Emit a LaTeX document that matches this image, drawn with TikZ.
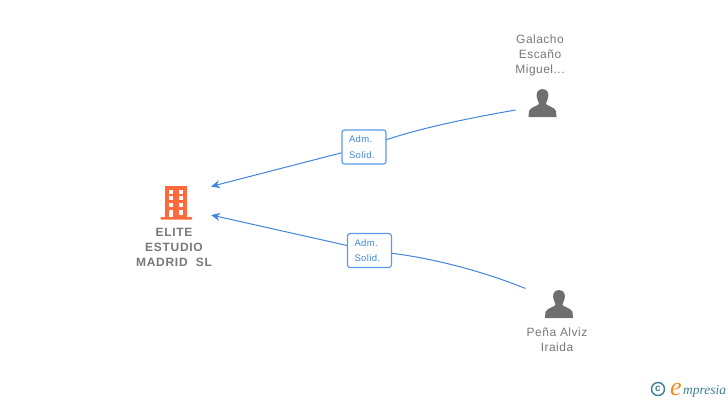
\documentclass[tikz,border=0pt]{standalone}
\usepackage{fontspec}
\setmainfont{Liberation Sans}
\newfontfamily\elitefont[LetterSpace=6]{Liberation Sans}
\newfontfamily\namefont[LetterSpace=4]{Liberation Sans}
\newfontfamily\logofont{Liberation Serif}
\usepackage{tikz}
\usetikzlibrary{arrows.meta}
\definecolor{link_blue}{HTML}{3F86DC}
\definecolor{box_blue}{HTML}{5A9BE6}
\definecolor{name_grey}{HTML}{787878}
\definecolor{icon_grey}{HTML}{6F6F6F}
\definecolor{firm_orange}{HTML}{FF6A3D}
\definecolor{logo_teal}{HTML}{3E7F93}
\definecolor{logo_orange}{HTML}{F08A24}

\begin{document}
\begin{tikzpicture}[x=1pt,y=-1pt,
    name_node/.style={align=center,text=name_grey,font=\fontsize{12}{15}\namefont,inner sep=0pt},
    firm_node/.style={align=center,text=name_grey,font=\fontsize{12}{15}\elitefont\bfseries,inner sep=0pt},
    adm_node/.style={draw=box_blue,rounded corners=2.5pt,fill=white,align=left,text=link_blue,line width=1.2pt,
        font=\fontsize{9.5}{15.5}\namefont,minimum width=44pt,minimum height=34pt,inner sep=0pt,text width=30pt},
    link/.style={draw=link_blue,line width=1pt},
    person_icon/.pic={
        \fill[icon_grey] (0,-14) .. controls (-6,-14) and (-6.5,-8) .. (-5.5,-5)
            .. controls (-5,-2) and (-3.5,-1) .. (-3.5,1) .. controls (-5,3) and (-12,4) .. (-13.5,8)
            -- (-14,14) -- (14,14) -- (13.5,8) .. controls (12,4) and (5,3) .. (3.5,1)
            .. controls (3.5,-1) and (5,-2) .. (5.5,-5) .. controls (6.5,-8) and (6,-14) .. (0,-14) -- cycle;
    }]
    \useasboundingbox (0,0) rectangle (728,400);

    % firm icon
    \fill[firm_orange] (165,186) rectangle (187,217.5);
    \fill[firm_orange,rounded corners=0.5pt] (160.5,217) rectangle (192,219.5);
    \foreach \r in {189.5,196.2,202.9}
        \foreach \c in {168.8,178.5}
            \fill[white] (\c,\r) rectangle +(4.6,4.2);
    \fill[white] (168.8,209.5) rectangle (173.4,217);
    \fill[white] (178.5,209.5) rectangle (183.1,214.5);

    \node[firm_node] (elite) at (174,247) {ELITE\\ESTUDIO\\MADRID\ \ SL};
    \node[name_node] (galacho) at (540,55) {Galacho\\Escaño\\Miguel...};
    \node[name_node] (pena) at (557,340) {Peña Alviz\\Iraida};
    \pic at (542.5,103) {person_icon};
    \pic at (559,304) {person_icon};

    \coordinate (galacho_out) at (515.5,110);
    \coordinate (pena_out) at (525.5,288.5);
    \coordinate (elite_top) at (211,186.5);
    \coordinate (elite_low) at (211,215);

    \node[adm_node] (adm1) at (364,147) {Adm.\\Solid.};
    \node[adm_node] (adm2) at (369.5,250.5) {Adm.\\Solid.};

    \draw[link] (galacho_out) .. controls (470,118) and (425,127) .. (adm1);
    \draw[link,-{Stealth[length=9pt,width=8pt]}] (adm1) -- (elite_top);
    \draw[link] (pena_out) .. controls (480,270) and (430,258) .. (adm2);
    \draw[link,-{Stealth[length=9pt,width=8pt]}] (adm2) -- (elite_low);

    % logo
    \node[draw=logo_teal,circle,line width=1.4pt,minimum size=13pt,inner sep=0pt,text=logo_teal,font=\fontsize{10}{10}\selectfont\bfseries] (copy) at (658,389) {c};
    \node[inner sep=0pt,text=logo_orange,font=\fontsize{26}{26}\logofont\itshape,anchor=base west] (logo_e) at (670,395) {e};
    \node[inner sep=0pt,text=logo_teal,font=\fontsize{13.5}{13.5}\logofont\itshape,anchor=base west] (logo_rest) at (683,394) {mpresia};
\end{tikzpicture}
\end{document}
